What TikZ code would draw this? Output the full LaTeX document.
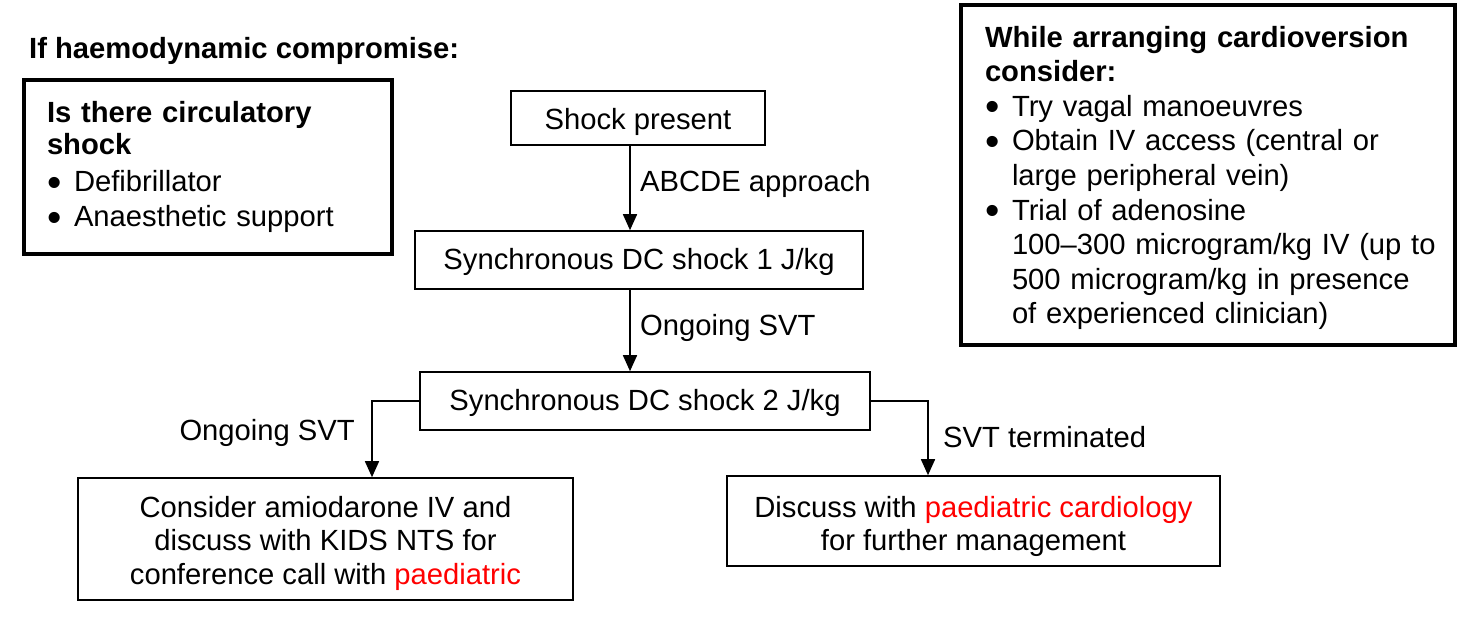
\documentclass[tikz,border=0pt]{standalone}
\usepackage{fontspec}
\setmainfont{Liberation Sans}
\usetikzlibrary{arrows.meta,calc}
\newcommand{\fsz}{\fontsize{29.2}{33.3}\selectfont}
\newcommand{\fsb}{\fontsize{29.2}{34.6}\selectfont}
\newcommand{\bul}{\makebox[27pt][l]{\raisebox{-0.3ex}[0pt][0pt]{\scalebox{1.4}{•}}}}
\newcommand{\ind}{\hspace*{27pt}}
\newcommand{\sh}[1]{\rule{0pt}{\dimexpr 22pt+#1pt\relax}}
\begin{document}
\begin{tikzpicture}[x=1pt,y=-1pt,
  box/.style={draw,line width=1.6pt,inner sep=0pt,align=center,font=\fsz},
  bigbox/.style={draw,line width=3.5pt,inner sep=0pt,align=left,font=\fsb},
  lab/.style={inner sep=0pt,font=\fsz},
  arr/.style={line width=1.6pt,-{Triangle[length=16pt,width=14pt]}}]
\useasboundingbox (0,0) rectangle (1467,629);

\node[lab,anchor=west,font=\fsz\bfseries] (title) at (29,48) {\sh{6}If haemodynamic compromise:};

\node[bigbox,minimum width=368pt,minimum height=174pt,text width=322pt] (circ) at (208,167)
  {\textbf{Is there circulatory}\\[-3pt] \textbf{shock}\\[3pt] \bul Defibrillator\\ \bul Anaesthetic support};

\node[bigbox,minimum width=494pt,minimum height=340pt,text width=446pt] (cons) at (1208,175)
  {\mbox{\sh{5}\textbf{While arranging cardioversion}}\\ \textbf{consider:}\\
   \bul Try vagal manoeuvres\\
   \mbox{\bul Obtain IV access (central or}\\
   \ind large peripheral vein)\\
   \bul Trial of adenosine\\
   \mbox{\ind 100–300 microgram/kg IV (up to}\\
   \mbox{\ind 500 microgram/kg in presence}\\
   \mbox{\ind of experienced clinician)}};

\node[box,minimum width=254pt,minimum height=54pt] (shock) at (638,118) {\sh{8}Shock present};
\node[box,minimum width=448pt,minimum height=58pt] (sync1) at (639,260) {\sh{4}Synchronous DC shock 1 J/kg};
\node[box,minimum width=450pt,minimum height=58pt] (sync2) at (645,401) {\sh{4}Synchronous DC shock 2 J/kg};
\node[box,minimum width=495pt,minimum height=122pt] (amio) at (325.5,539)
  {\sh{8}Consider amiodarone IV and\\ discuss with KIDS NTS for\\ conference call with \textcolor{red}{paediatric}};
\node[box,minimum width=493pt,minimum height=90pt] (disc) at (973.5,521)
  {\sh{10}Discuss with \textcolor{red}{paediatric cardiology}\\ for further management};

\coordinate (ax) at (630,0);
\coordinate (lx) at (372,0);
\coordinate (rx) at (928,0);
\draw[arr] (shock.south -| ax) -- (sync1.north -| ax);
\draw[arr] (sync1.south -| ax) -- (sync2.north -| ax);
\draw[arr] (sync2.west) -| (amio.north -| lx);
\draw[arr] (sync2.east) -| (disc.north -| rx);

\node[lab,anchor=west] (l1) at (640,181) {\sh{6}ABCDE approach};
\node[lab,anchor=west] (l2) at (640,325) {\sh{6}Ongoing SVT};
\node[lab,anchor=east] (l3) at (355,431) {\sh{4}Ongoing SVT};
\node[lab,anchor=west] (l4) at (943,437) {SVT terminated};
\end{tikzpicture}
\end{document}
